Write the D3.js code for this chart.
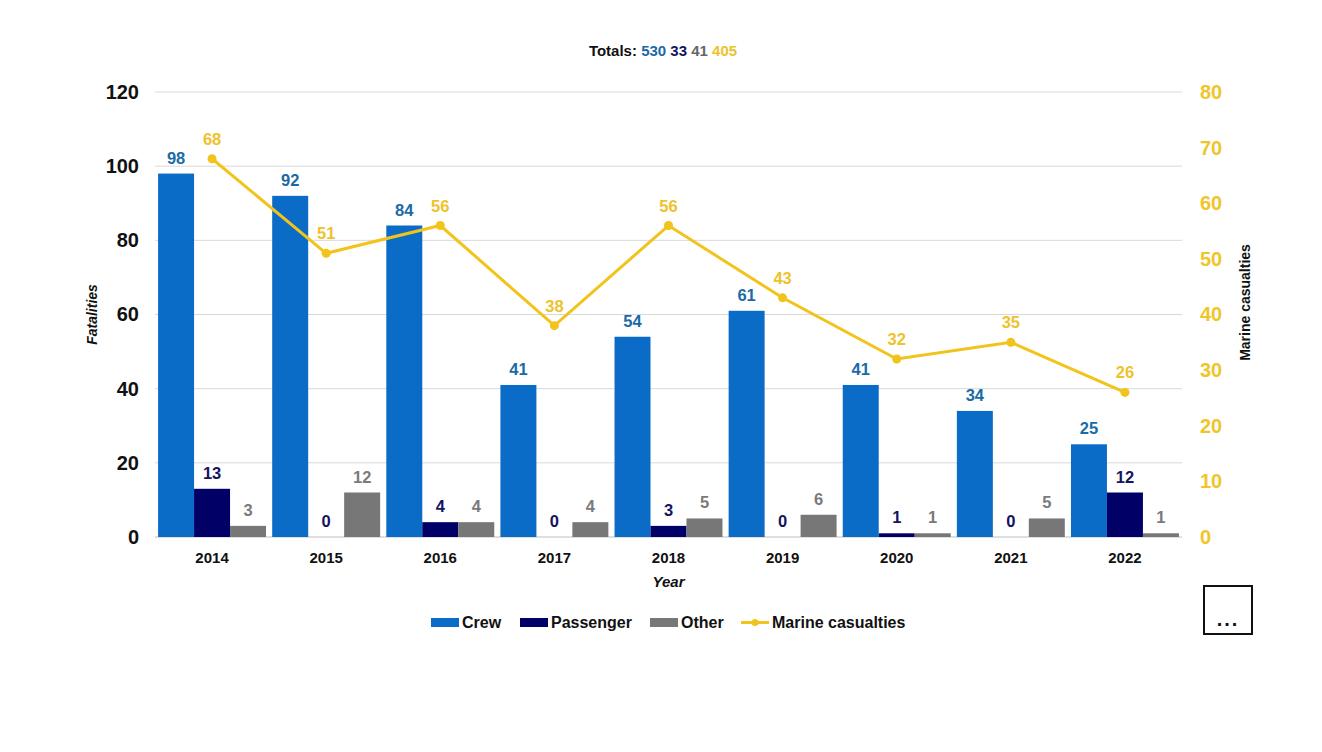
<!DOCTYPE html>
<html><head><meta charset="utf-8">
<script src="https://cdn.jsdelivr.net/npm/d3@7"></script>
<style>body{margin:0;background:#fff;font-family:"Liberation Sans",Arial,sans-serif;}</style>
</head><body>
<svg id="c" width="1322" height="752"></svg>
<script>
const years = ["2014","2015","2016","2017","2018","2019","2020","2021","2022"];
const crew = [98,92,84,41,54,61,41,34,25];
const passenger = [13,0,4,0,3,0,1,0,12];
const other = [3,12,4,4,5,6,1,5,1];
const marine = [68,51,56,38,56,43,32,35,26];
const leftTicks = [0,20,40,60,80,100,120];
const rightTicks = [0,10,20,30,40,50,60,70,80];
const totals = [530,33,41,405];

const C = {crew:"#0a6cc6", pass:"#000066", other:"#777777", line:"#f2c31a",
  crewLbl:"#1b6aa6", passLbl:"#141460", otherLbl:"#7a7a7a", lineLbl:"#eec22a"};

const svg = d3.select("#c");
const L=155, R=1182, T=92, B=537;
const x = d3.scaleBand().domain(years).range([L,R]).paddingInner(0.054).paddingOuter(0.027);
const yL = d3.scaleLinear().domain([0,120]).range([B,T]);
const yR = d3.scaleLinear().domain([0,80]).range([B,T]);
const series = ["crew","pass","other"];
const xs = d3.scaleBand().domain(series).range([0,x.bandwidth()]);
const data = {crew, pass:passenger, other};

// gridlines
svg.append("g").selectAll("line").data(leftTicks).join("line")
  .attr("x1",L).attr("x2",R).attr("y1",d=>yL(d)).attr("y2",d=>yL(d))
  .attr("stroke",d=>d===0?"#bfbfbf":"#d9d9d9").attr("stroke-width",1);

// left axis
const ga = svg.append("g").attr("transform",`translate(${L-16},0)`)
  .call(d3.axisLeft(yL).tickValues(leftTicks).tickSize(0).tickPadding(0));
ga.select(".domain").remove();
ga.selectAll("text").attr("font-family","Liberation Sans, Arial").attr("font-size",20).attr("font-weight","bold").attr("fill","#111");

// right axis
const gr = svg.append("g").attr("transform",`translate(${R+18},0)`)
  .call(d3.axisRight(yR).tickValues(rightTicks).tickSize(0).tickPadding(0));
gr.select(".domain").remove();
gr.selectAll("text").attr("font-family","Liberation Sans, Arial").attr("font-size",20).attr("font-weight","bold").attr("fill","#f0c52a");

// x axis
const gx = svg.append("g").attr("transform",`translate(0,${B+15})`)
  .call(d3.axisBottom(x).tickSize(0).tickPadding(0));
gx.select(".domain").remove();
gx.selectAll("text").attr("font-family","Liberation Sans, Arial").attr("font-size",15).attr("font-weight","bold").attr("fill","#111");

// bars
const colors = {crew:C.crew, pass:C.pass, other:C.other};
const lblColors = {crew:C.crewLbl, pass:C.passLbl, other:C.otherLbl};
series.forEach(s=>{
  const g = svg.append("g");
  g.selectAll("rect").data(years).join("rect")
    .attr("x",(d)=>x(d)+xs(s)).attr("width",xs.bandwidth())
    .attr("y",(d,i)=>yL(data[s][i])).attr("height",(d,i)=>B-yL(data[s][i]))
    .attr("fill",colors[s]);
  g.selectAll("text").data(years).join("text")
    .attr("x",(d)=>x(d)+xs(s)+xs.bandwidth()/2)
    .attr("y",(d,i)=>yL(data[s][i])-10)
    .attr("text-anchor","middle").attr("font-size",16.5).attr("font-weight","bold")
    .attr("fill",lblColors[s]).text((d,i)=>data[s][i]);
});

// line
const cx = d=>x(d)+x.bandwidth()/2;
const line = d3.line().x((d,i)=>cx(years[i])).y(d=>yR(d));
svg.append("path").datum(marine).attr("d",line).attr("fill","none").attr("stroke",C.line).attr("stroke-width",3);
svg.append("g").selectAll("circle").data(marine).join("circle")
  .attr("cx",(d,i)=>cx(years[i])).attr("cy",d=>yR(d)).attr("r",4.5).attr("fill",C.line);
svg.append("g").selectAll("text").data(marine).join("text")
  .attr("x",(d,i)=>cx(years[i])).attr("y",d=>yR(d)-14)
  .attr("text-anchor","middle").attr("font-size",16.5).attr("font-weight","bold")
  .attr("fill",C.lineLbl).text(d=>d);

// axis titles
svg.append("text").attr("transform",`translate(97,${(T+B)/2}) rotate(-90)`)
  .attr("text-anchor","middle").attr("font-size",14).attr("font-weight","bold").attr("font-style","italic").attr("fill","#111").text("Fatalities");
svg.append("text").attr("transform",`translate(1250,${(T+B)/2-12}) rotate(-90)`)
  .attr("text-anchor","middle").attr("font-size",14).attr("font-weight","bold").attr("fill","#111").text("Marine casualties");
svg.append("text").attr("x",(L+R)/2).attr("y",587).attr("text-anchor","middle")
  .attr("font-size",15).attr("font-weight","bold").attr("font-style","italic").attr("fill","#111").text("Year");

// totals
const tt = svg.append("text").attr("x",663).attr("y",56).attr("text-anchor","middle")
  .attr("font-size",15).attr("font-weight","bold");
tt.append("tspan").attr("fill","#111").text("Totals: ");
const tcols = [C.crewLbl,"#141460","#666666",C.lineLbl];
totals.forEach((v,i)=>tt.append("tspan").attr("fill",tcols[i]).text(v+(i<3?" ":"")));

// legend
const leg = [
  {k:"Crew",c:C.crew,x:431,type:"rect"},
  {k:"Passenger",c:C.pass,x:520,type:"rect"},
  {k:"Other",c:C.other,x:650,type:"rect"},
  {k:"Marine casualties",c:C.line,x:741,type:"line"}];
const lg = svg.append("g");
leg.forEach(l=>{
  if(l.type==="rect"){
    lg.append("rect").attr("x",l.x).attr("y",618).attr("width",28).attr("height",9).attr("fill",l.c);
  } else {
    lg.append("line").attr("x1",l.x).attr("x2",l.x+28).attr("y1",622.5).attr("y2",622.5).attr("stroke",l.c).attr("stroke-width",3);
    lg.append("circle").attr("cx",l.x+14).attr("cy",622.5).attr("r",3.5).attr("fill",l.c);
  }
  lg.append("text").attr("x",l.x+31).attr("y",628).attr("font-size",16).attr("font-weight","bold").attr("fill","#111").text(l.k);
});

// menu box
svg.append("rect").attr("x",1204).attr("y",586).attr("width",48).attr("height",48).attr("fill","#fff").attr("stroke","#111").attr("stroke-width",2);
svg.append("text").attr("x",1228).attr("y",626).attr("text-anchor","middle").attr("font-size",20).attr("font-weight","bold").attr("letter-spacing",2).attr("fill","#111").text("...");
</script>
</body></html>
